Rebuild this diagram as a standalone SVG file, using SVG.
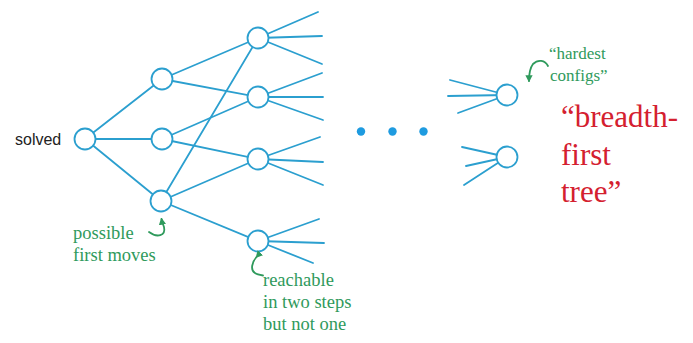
<svg xmlns="http://www.w3.org/2000/svg" width="693" height="343" viewBox="0 0 693 343">
  <style>
    .edge { stroke: #2b9fcf; stroke-width: 1.8; fill: none; stroke-linecap: round; }
    .node { fill: #ffffff; stroke: #2b9fcf; stroke-width: 1.8; }
    .dot { fill: #1e9be0; }
    .hook { stroke: #2f9a5c; stroke-width: 1.8; fill: none; stroke-linecap: round; }
  </style>
  <defs>
    <marker id="tip" viewBox="0 0 10 10" refX="8" refY="5" markerWidth="4" markerHeight="4" orient="auto">
      <path d="M0,0 L10,5 L0,10 z" fill="#2f9a5c"/>
    </marker>
  </defs>

  <!-- connectors -->
  <g id="connectors">
    <!-- root to first level -->
    <line class="edge" x1="85" y1="139" x2="162" y2="79"/>
    <line class="edge" x1="85" y1="139" x2="162" y2="139"/>
    <line class="edge" x1="85" y1="139" x2="161" y2="201"/>
    <!-- first level to second level -->
    <line class="edge" x1="162" y1="79" x2="258" y2="38"/>
    <line class="edge" x1="162" y1="79" x2="258" y2="97"/>
    <line class="edge" x1="162" y1="139" x2="258" y2="97"/>
    <line class="edge" x1="162" y1="139" x2="258" y2="159"/>
    <line class="edge" x1="161" y1="201" x2="258" y2="38"/>
    <line class="edge" x1="161" y1="201" x2="258" y2="159"/>
    <line class="edge" x1="161" y1="201" x2="258" y2="241"/>
    <!-- second level fan-out -->
    <line class="edge" x1="258" y1="38" x2="318" y2="12"/>
    <line class="edge" x1="258" y1="38" x2="322" y2="36"/>
    <line class="edge" x1="258" y1="38" x2="322" y2="64"/>
    <line class="edge" x1="258" y1="97" x2="322" y2="73"/>
    <line class="edge" x1="258" y1="97" x2="323" y2="97"/>
    <line class="edge" x1="258" y1="97" x2="323" y2="120"/>
    <line class="edge" x1="258" y1="159" x2="320" y2="137"/>
    <line class="edge" x1="258" y1="159" x2="323" y2="162"/>
    <line class="edge" x1="258" y1="159" x2="323" y2="185"/>
    <line class="edge" x1="258" y1="241" x2="319" y2="219"/>
    <line class="edge" x1="258" y1="241" x2="324" y2="243"/>
    <line class="edge" x1="258" y1="241" x2="313" y2="263"/>
    <!-- deepest level fan-in -->
    <line class="edge" x1="507" y1="95" x2="450" y2="80"/>
    <line class="edge" x1="507" y1="95" x2="448" y2="96"/>
    <line class="edge" x1="507" y1="95" x2="458" y2="113"/>
    <line class="edge" x1="507" y1="157" x2="462" y2="147"/>
    <line class="edge" x1="507" y1="157" x2="466" y2="166"/>
    <line class="edge" x1="507" y1="157" x2="464" y2="185"/>
  </g>

  <!-- nodes -->
  <g id="solved">
    <circle class="node" cx="85" cy="139" r="10.5"/>
    <text x="15" y="145" font-family="Liberation Sans, Arial, sans-serif" font-size="16" fill="#222222">solved</text>
  </g>
  <g id="move-a"><circle class="node" cx="162" cy="79" r="10.5"/></g>
  <g id="move-b"><circle class="node" cx="162" cy="139" r="10.5"/></g>
  <g id="move-c"><circle class="node" cx="161" cy="201" r="10.5"/></g>
  <g id="step2-a"><circle class="node" cx="258" cy="38" r="10.5"/></g>
  <g id="step2-b"><circle class="node" cx="258" cy="97" r="10.5"/></g>
  <g id="step2-c"><circle class="node" cx="258" cy="159" r="10.5"/></g>
  <g id="step2-d"><circle class="node" cx="258" cy="241" r="10.5"/></g>
  <g id="hard-a"><circle class="node" cx="507" cy="95" r="10.5"/></g>
  <g id="hard-b"><circle class="node" cx="507" cy="157" r="10.5"/></g>

  <!-- ellipsis -->
  <g id="ellipsis">
    <circle class="dot" cx="361" cy="131.5" r="4.2"/>
    <circle class="dot" cx="392.5" cy="131.5" r="4.2"/>
    <circle class="dot" cx="423.5" cy="131.5" r="4.2"/>
  </g>

  <!-- annotations, set in a serif face -->
  <g font-family="Liberation Serif, Times New Roman, Times, serif" fill="#2f9a5c" font-size="18.5">
    <g id="note-first">
      <path class="hook" d="M149,232 C157,238 166,236 164,227 C163,224 162,222 161.5,219" marker-end="url(#tip)"/>
      <text x="73" y="239">possible</text>
      <text x="73" y="261">first moves</text>
    </g>
    <g id="note-two">
      <path class="hook" d="M256.5,257 C252,262 250,270 255,273 C257,274.5 260,275 263,275.5" marker-start="url(#tip)"/>
      <text x="263" y="286">reachable</text>
      <text x="263" y="308">in two steps</text>
      <text x="263" y="330">but not one</text>
    </g>
    <g id="note-hard" font-size="17">
      <path class="hook" d="M548,66 C545,60 538,59 533,64 C530,68 529,74 529,81" marker-end="url(#tip)"/>
      <text x="549" y="59">“hardest</text>
      <text x="550" y="81">configs”</text>
    </g>
  </g>
  <g id="title" font-family="Liberation Serif, Times New Roman, Times, serif" fill="#d4202f" font-size="31">
    <text x="561" y="127">“breadth-</text>
    <text x="561" y="165">first</text>
    <text x="561" y="202">tree”</text>
  </g>
</svg>
